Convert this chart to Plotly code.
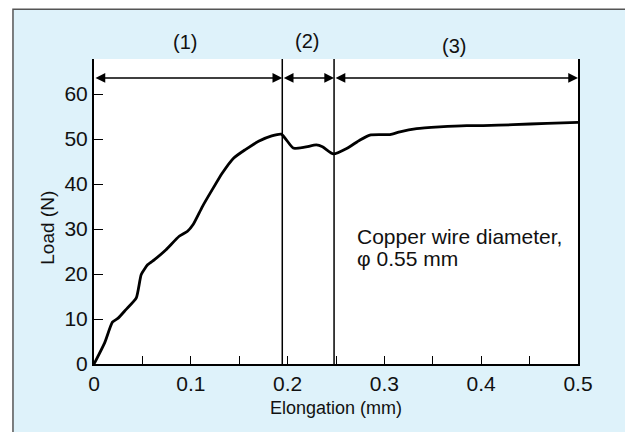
import plotly.graph_objects as go

# Data
elongation_mm = [0.0, 0.011, 0.019, 0.025, 0.033, 0.0437, 0.0488, 0.0556, 0.0625, 0.0744,
                 0.088, 0.0966, 0.1024, 0.112, 0.122, 0.1324, 0.1444, 0.156, 0.17, 0.1836,
                 0.1935, 0.2058, 0.2177, 0.2297, 0.236, 0.2473, 0.261, 0.2748, 0.285,
                 0.3058, 0.316, 0.3333, 0.357, 0.385, 0.402, 0.433, 0.468, 0.5]
load_N = [0.0, 4.7, 9.3, 10.2, 12.1, 14.7, 19.9, 22.1, 23.2, 25.4,
          28.4, 29.5, 31.0, 35.0, 38.7, 42.4, 45.8, 47.6, 49.5, 50.7,
          51.1, 48.0, 48.2, 48.7, 48.3, 46.7, 47.9, 49.8, 50.9,
          51.0, 51.6, 52.3, 52.7, 53.0, 53.0, 53.2, 53.5, 53.7]

region_bounds = [0.0, 0.1945, 0.248, 0.5]
region_labels = ["(1)", "(2)", "(3)"]
region_label_x = [0.094, 0.2203, 0.372]
arrow_y = 63.6

x_tickvals = [0, 0.05, 0.1, 0.15, 0.2, 0.25, 0.3, 0.35, 0.4, 0.45, 0.5]
x_ticktext = ["0", "", "0.1", "", "0.2", "", "0.3", "", "0.4", "", "0.5"]
y_tickvals = [0, 10, 20, 30, 40, 50, 60]

note_lines = ["Copper wire diameter,", "\u03c6 0.55 mm"]

FONT = "Arial, 'Liberation Sans', sans-serif"
BLUE = "#def2fa"
TXT = "#111111"

fig = go.Figure()
fig.add_trace(go.Scatter(x=elongation_mm, y=load_N, mode="lines",
                         line=dict(color="black", width=2.8, shape="spline", smoothing=0.5),
                         hoverinfo="skip", showlegend=False))

shapes = [
    dict(type="rect", xref="paper", yref="paper", x0=-0.1674, x1=1.1089, y0=-0.35, y1=1.163,
         fillcolor=BLUE, line=dict(color="#555555", width=1.5), layer="below"),
    dict(type="rect", xref="paper", yref="paper", x0=0, x1=1, y0=0, y1=1,
         fillcolor="white", line=dict(width=0), layer="below"),
]
for xb in region_bounds[1:3]:
    shapes.append(dict(type="line", xref="x", yref="paper", x0=xb, x1=xb, y0=0, y1=1,
                       line=dict(color="black", width=1.5)))

# vertical placement (paper fraction) of the region labels above the plot area
label_pos_y = [1.056, 1.060, 1.044]

annotations = []
for i in range(3):
    annotations.append(dict(x=region_bounds[i + 1], y=arrow_y, ax=region_bounds[i], ay=arrow_y,
                            xref="x", yref="y", axref="x", ayref="y", text="", showarrow=True,
                            arrowhead=2, startarrowhead=2, arrowside="end+start",
                            arrowsize=1.3, startarrowsize=1.3, arrowwidth=1.5, arrowcolor="black",
                            standoff=0, startstandoff=0))
    annotations.append(dict(x=region_label_x[i], y=label_pos_y[i], xref="x", yref="paper",
                            text=region_labels[i], showarrow=False, yanchor="middle",
                            font=dict(family=FONT, size=20, color=TXT)))

annotations.append(dict(x=0.2696, y=28.3, xref="x", yref="y", text=note_lines[0], showarrow=False,
                        xanchor="left", yanchor="middle", font=dict(family=FONT, size=21, color=TXT)))
annotations.append(dict(x=0.2696, y=23.5, xref="x", yref="y", text=note_lines[1], showarrow=False,
                        xanchor="left", yanchor="middle", font=dict(family=FONT, size=21, color=TXT)))
annotations.append(dict(x=0.25, y=-0.144, xref="x", yref="paper", text="Elongation (mm)", showarrow=False,
                        xanchor="center", yanchor="middle", font=dict(family=FONT, size=18, color=TXT)))
annotations.append(dict(x=-0.095, y=30.3, xref="paper", yref="y", text="Load (N)", showarrow=False,
                        textangle=-90, xanchor="center", yanchor="middle",
                        font=dict(family=FONT, size=19, color=TXT)))

# page body has an 8 px margin, so the figure is 8 px smaller than the window
fig.update_layout(
    width=625, height=424,
    margin=dict(l=86, r=55, t=51, b=68),
    paper_bgcolor="white", plot_bgcolor="white",
    shapes=shapes, annotations=annotations,
    showlegend=False,
    font=dict(family=FONT, size=21, color=TXT),
)
fig.update_xaxes(range=[0, 0.5], tickvals=x_tickvals, ticktext=x_ticktext, ticks="inside",
                 ticklen=8, tickwidth=1.3, tickcolor="black", showgrid=False, zeroline=False,
                 showline=True, linecolor="black", linewidth=2, mirror=False,
                 tickfont=dict(family=FONT, size=21, color=TXT))
fig.update_yaxes(range=[0, 67.8], tickvals=y_tickvals, ticks="inside", ticklen=9, tickwidth=1.3,
                 tickcolor="black", showgrid=False, zeroline=False, showline=True,
                 linecolor="black", linewidth=2, mirror=True,
                 tickfont=dict(family=FONT, size=21, color=TXT))

fig.write_html("out.html")
